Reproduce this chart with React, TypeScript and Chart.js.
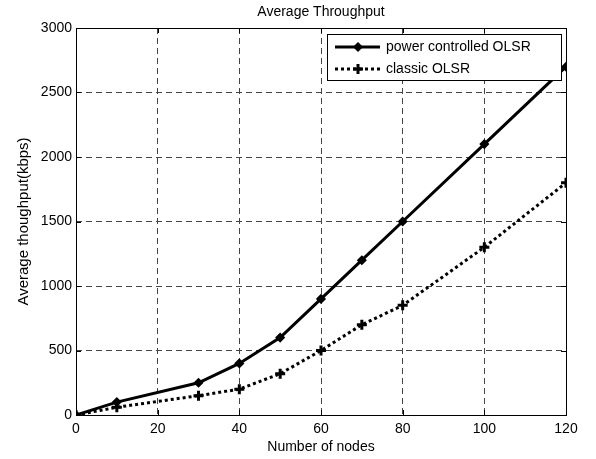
import React, { useEffect, useRef } from 'react';
import { Chart, registerables } from 'chart.js';

Chart.register(...registerables);

const nodes = [0, 10, 30, 40, 50, 60, 70, 80, 100, 120];
const powerControlled = [0, 100, 250, 400, 600, 900, 1200, 1500, 2100, 2700];
const classicOlsr = [0, 60, 150, 200, 320, 500, 700, 850, 1300, 1800];
const xTicks = [0, 20, 40, 60, 80, 100, 120];
const yTicks = [0, 500, 1000, 1500, 2000, 2500, 3000];
const seriesNames = ['power controlled OLSR', 'classic OLSR'];
const chartTitle = 'Average Throughput';
const xTitle = 'Number of nodes';
const yTitle = 'Average thoughput(kbps)';

const FONT = '"Liberation Sans", Arial, Helvetica, sans-serif';

function drawMarker(ctx: CanvasRenderingContext2D, style: string, r: number, bw: number, x: number, y: number) {
  ctx.save();
  ctx.strokeStyle = '#000';
  ctx.fillStyle = '#000';
  ctx.lineWidth = bw;
  ctx.setLineDash([]);
  ctx.beginPath();
  if (style === 'rectRot') {
    ctx.moveTo(x, y - r); ctx.lineTo(x + r, y); ctx.lineTo(x, y + r); ctx.lineTo(x - r, y); ctx.closePath();
    ctx.fill(); ctx.stroke();
  } else {
    ctx.moveTo(x - r, y); ctx.lineTo(x + r, y);
    ctx.moveTo(x, y - r); ctx.lineTo(x, y + r);
    ctx.stroke();
  }
  ctx.restore();
}

const decorPlugin = {
  id: 'decor',
  beforeDatasetsDraw(chart: any) {
    const { ctx, chartArea: a, scales } = chart;
    ctx.save();
    ctx.strokeStyle = '#000';
    ctx.lineWidth = 1;
    ctx.strokeRect(Math.round(a.left) + 0.5, Math.round(a.top) + 0.5, Math.round(a.right - a.left), Math.round(a.bottom - a.top));
    const tl = 5;
    ctx.beginPath();
    xTicks.forEach((v) => {
      const x = Math.round(scales.x.getPixelForValue(v)) + 0.5;
      ctx.moveTo(x, a.bottom); ctx.lineTo(x, a.bottom - tl);
      ctx.moveTo(x, a.top); ctx.lineTo(x, a.top + tl);
    });
    yTicks.forEach((v) => {
      const y = Math.round(scales.y.getPixelForValue(v)) + 0.5;
      ctx.moveTo(a.left, y); ctx.lineTo(a.left + tl, y);
      ctx.moveTo(a.right, y); ctx.lineTo(a.right - tl, y);
    });
    ctx.stroke();
    ctx.restore();
  },
  afterDraw(chart: any) {
    const { ctx, chartArea: a } = chart;
    ctx.save();
    ctx.fillStyle = '#000';
    ctx.font = `14px ${FONT}`;
    ctx.textAlign = 'center';
    ctx.textBaseline = 'middle';
    ctx.fillText(chartTitle, (a.left + a.right) / 2, 12);
    ctx.fillText(xTitle, (a.left + a.right) / 2, 447);
    ctx.save();
    ctx.translate(24, (a.top + a.bottom) / 2);
    ctx.rotate(-Math.PI / 2);
    ctx.font = `15px ${FONT}`;
    ctx.fillText(yTitle, 0, 0);
    ctx.restore();

    // legend
    const bx = 327, by = 34, bw = 234, bh = 46;
    ctx.fillStyle = '#fff';
    ctx.fillRect(bx, by, bw, bh);
    ctx.strokeStyle = '#000';
    ctx.lineWidth = 1;
    ctx.strokeRect(bx + 0.5, by + 0.5, bw, bh);
    const rows = [47, 69];
    chart.data.datasets.forEach((ds: any, i: number) => {
      const y = rows[i];
      ctx.save();
      ctx.strokeStyle = '#000';
      ctx.lineWidth = ds.borderWidth;
      ctx.setLineDash(ds.borderDash || []);
      ctx.beginPath();
      ctx.moveTo(335, y);
      ctx.lineTo(380, y);
      ctx.stroke();
      ctx.restore();
      drawMarker(ctx, ds.pointStyle, ds.pointRadius, ds.pointBorderWidth, 358, y);
      ctx.fillStyle = '#000';
      ctx.font = `14px ${FONT}`;
      ctx.textAlign = 'left';
      ctx.textBaseline = 'middle';
      ctx.fillText(ds.label, 386, y);
    });
    ctx.restore();
  },
};

export default function App() {
  const ref = useRef<HTMLCanvasElement>(null);
  useEffect(() => {
    document.body.style.margin = '0';
    const c = ref.current!;
    const chart = new Chart(c, {
      type: 'line',
      data: {
        datasets: [
          {
            label: seriesNames[0],
            data: nodes.map((n, i) => ({ x: n, y: powerControlled[i] })),
            borderColor: '#000',
            backgroundColor: '#000',
            borderWidth: 3,
            pointStyle: 'rectRot',
            pointRadius: 4,
            pointBorderWidth: 1.5,
            pointBackgroundColor: '#000',
            pointBorderColor: '#000',
            tension: 0,
          },
          {
            label: seriesNames[1],
            data: nodes.map((n, i) => ({ x: n, y: classicOlsr[i] })),
            borderColor: '#000',
            backgroundColor: '#000',
            borderWidth: 3,
            borderDash: [3, 3],
            pointStyle: 'cross',
            pointRadius: 5,
            pointBorderWidth: 3,
            pointBackgroundColor: '#000',
            pointBorderColor: '#000',
            tension: 0,
          },
        ],
      },
      options: {
        responsive: false,
        animation: false,
        layout: { padding: { left: 0, right: 30, top: 28, bottom: 0 } },
        plugins: { legend: { display: false }, tooltip: { enabled: false }, title: { display: false } },
        scales: {
          x: {
            type: 'linear',
            min: 0,
            max: 120,
            afterBuildTicks: (s: any) => { s.ticks = xTicks.map((v) => ({ value: v })); },
            afterFit: (s: any) => { s.height = 44; },
            ticks: { color: '#000', font: { family: FONT, size: 14 }, padding: 6, maxRotation: 0, autoSkip: false, callback: (v: any) => String(v) },
            grid: { color: '#444', lineWidth: 1, drawTicks: false },
            border: { display: false, dash: [6, 4] },
          },
          y: {
            type: 'linear',
            min: 0,
            max: 3000,
            afterBuildTicks: (s: any) => { s.ticks = yTicks.map((v) => ({ value: v })); },
            afterFit: (s: any) => { s.width = 76; },
            ticks: { color: '#000', font: { family: FONT, size: 14 }, padding: 4, callback: (v: any) => String(v) },
            grid: { color: '#444', lineWidth: 1, drawTicks: false },
            border: { display: false, dash: [6, 4] },
          },
        },
      },
      plugins: [decorPlugin],
    });
    return () => chart.destroy();
  }, []);
  return <canvas ref={ref} width={596} height={459} style={{ display: 'block' }} />;
}
